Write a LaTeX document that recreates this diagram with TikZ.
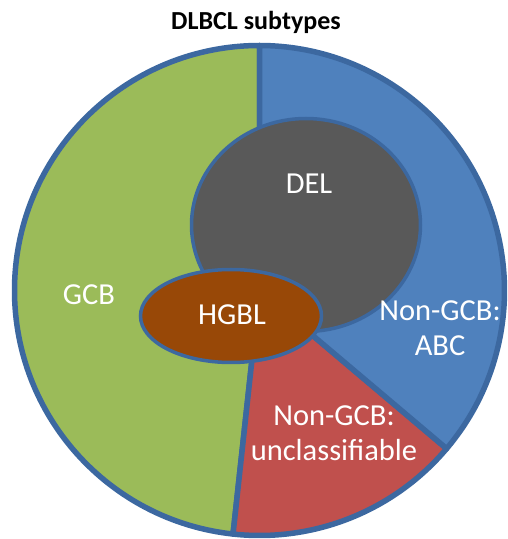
\documentclass[tikz,border=0pt]{standalone}
\usepackage{fontspec}
\setmainfont{Carlito}
\definecolor{rim}{RGB}{60,104,160}
\definecolor{gcbgreen}{RGB}{155,187,89}
\definecolor{abcblue}{RGB}{79,129,189}
\definecolor{unred}{RGB}{192,80,77}
\definecolor{delgray}{RGB}{89,89,89}
\definecolor{hgblbrown}{RGB}{152,72,7}
\begin{document}
\begin{tikzpicture}[x=1pt,y=1pt,
  sector/.style={draw=rim,line width=5.5pt,line join=round},
  blob/.style={draw=rim,line width=3.5pt},
  lbl/.style={text=white,font=\fontsize{30.5}{35}\selectfont,align=center,inner sep=0pt}]
\useasboundingbox (0,0) rectangle (507,539);
\coordinate (c) at (259.5,248.5);
\fill[white] (0,0) rectangle (507,539);
% pie sectors
\filldraw[sector,fill=gcbgreen] (c) -- ++(90:245) arc[start angle=90,end angle=263.8,radius=245] -- cycle;
\filldraw[sector,fill=unred] (c) -- ++(263.8:245) arc[start angle=263.8,end angle=319.8,radius=245] -- cycle;
\filldraw[sector,fill=abcblue] (c) -- ++(-40.2:245) arc[start angle=-40.2,end angle=90,radius=245] -- cycle;
% overlapping ellipses
\filldraw[blob,fill=delgray] (306,314) ellipse[x radius=114.5,y radius=106.5];
\filldraw[blob,fill=hgblbrown] (231,223) ellipse[x radius=90.5,y radius=46.5];
% labels
\node[inner sep=0pt,font=\bfseries\fontsize{26}{30}\selectfont] (title) at (256,517) {DLBCL subtypes};
\node[lbl] (gcb) at (89,244) {GCB};
\node[lbl] (del) at (309,355) {DEL};
\node[lbl] (hgbl) at (232,224) {HGBL};
\node[lbl] (abc) at (440,211) {Non-GCB:\\ABC};
\node[lbl] (uncl) at (334,105.5) {Non-GCB:\\unclassifiable};
\end{tikzpicture}
\end{document}
